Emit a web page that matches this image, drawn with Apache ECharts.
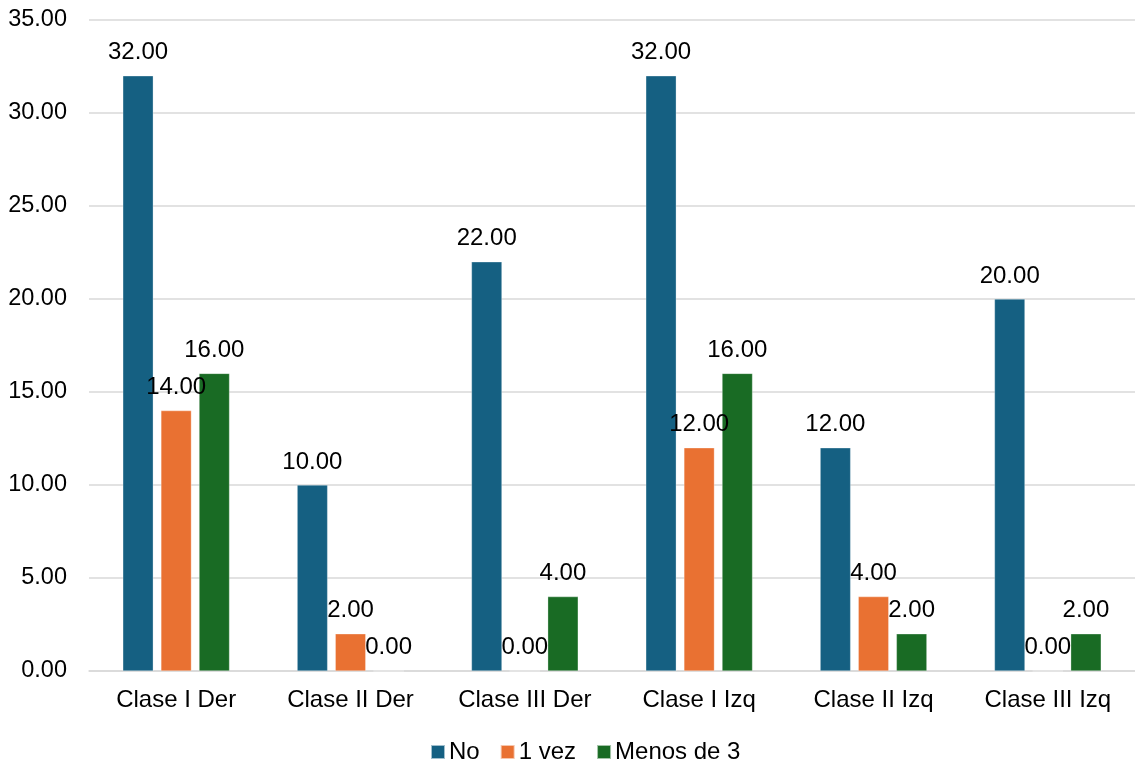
<!DOCTYPE html>
<html>
<head>
<meta charset="utf-8">
<script src="https://cdn.jsdelivr.net/npm/echarts@6/dist/echarts.min.js"></script>
<style>
  html, body { margin: 0; padding: 0; background: #fff; }
  #chart { width: 1135px; height: 765px; }
</style>
</head>
<body>
<div id="chart"></div>
<script>
// Categories and series values
const categories = ['Clase I Der', 'Clase II Der', 'Clase III Der', 'Clase I Izq', 'Clase II Izq', 'Clase III Izq'];
const seriesNames = ['No', '1 vez', 'Menos de 3'];
const noValues = [32, 10, 22, 32, 12, 20];
const unaVezValues = [14, 2, 0, 12, 4, 0];
const menosDe3Values = [16, 0, 4, 16, 2, 2];
const colors = ['#156082', '#E97132', '#196B24'];

const FONT = '"Liberation Sans", Arial, sans-serif';
const TEXT = '#000';

function makeSeries(name, data, color) {
  return {
    name: name,
    type: 'bar',
    data: data,
    barWidth: 30.5,
    barGap: '25%',
    itemStyle: { color: color, borderColor: 'rgba(255,255,255,0.6)', borderWidth: 0.5 },
    label: {
      show: true,
      position: 'top',
      distance: 11,
      color: TEXT,
      fontFamily: FONT,
      fontSize: 24,
      formatter: p => p.value.toFixed(2)
    }
  };
}

const chart = echarts.init(document.getElementById('chart'), null, { renderer: 'canvas' });
chart.setOption({
  animation: false,
  color: colors,
  textStyle: { fontFamily: FONT },
  grid: { left: 89, top: 20, width: 1050, height: 651, containLabel: false },
  legend: {
    data: seriesNames,
    top: 735,
    left: 425,
    icon: 'rect',
    itemWidth: 14,
    itemHeight: 14,
    itemGap: 20,
    textStyle: { color: TEXT, fontFamily: FONT, fontSize: 24, padding: [0, 0, 0, -1] }
  },
  xAxis: {
    type: 'category',
    data: categories,
    axisTick: { show: false },
    axisLine: { lineStyle: { color: '#d9d9d9', width: 1.5 } },
    axisLabel: { color: TEXT, fontFamily: FONT, fontSize: 24, margin: 17 }
  },
  yAxis: {
    type: 'value',
    min: 0,
    max: 35,
    interval: 5,
    axisLine: { show: false },
    axisTick: { show: false },
    splitLine: { lineStyle: { color: '#d9d9d9', width: 1.5 } },
    axisLabel: { color: TEXT, fontFamily: FONT, fontSize: 23.5, margin: 22, formatter: v => v.toFixed(2) }
  },
  series: [
    makeSeries(seriesNames[0], noValues, colors[0]),
    makeSeries(seriesNames[1], unaVezValues, colors[1]),
    makeSeries(seriesNames[2], menosDe3Values, colors[2])
  ]
});
</script>
</body>
</html>
